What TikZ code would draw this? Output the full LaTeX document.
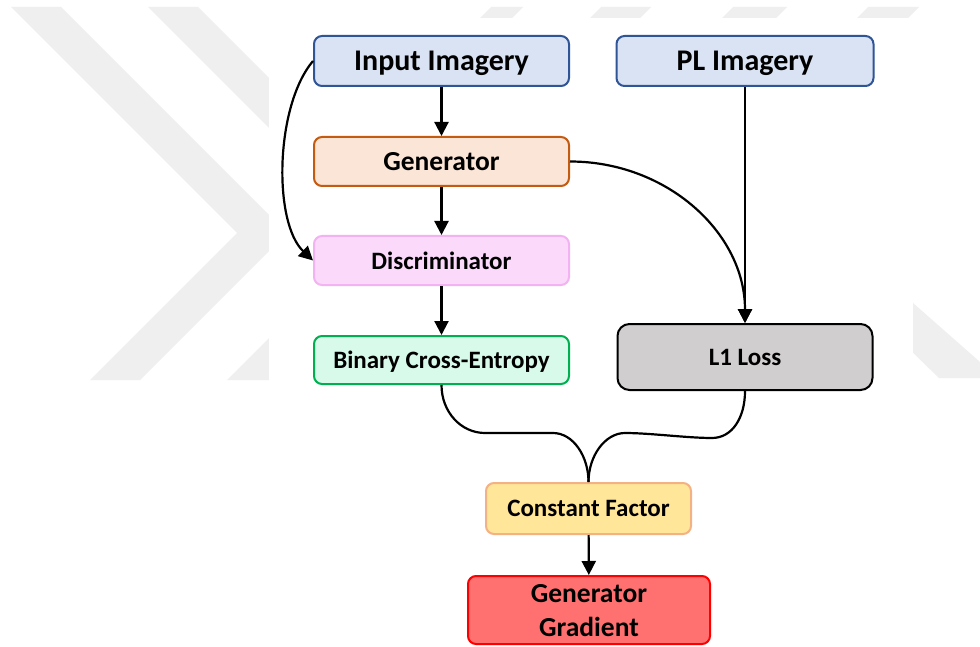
\documentclass[tikz,border=0pt]{standalone}
\usepackage{fontspec}
\setmainfont{Carlito}
\usetikzlibrary{arrows.meta}
\definecolor{wm}{HTML}{EFEFEF}
\definecolor{inpfill}{HTML}{DAE3F3}
\definecolor{inpdraw}{HTML}{2F5597}
\definecolor{genfill}{HTML}{FBE5D6}
\definecolor{gendraw}{HTML}{C55A11}
\definecolor{disfill}{HTML}{FAD9FB}
\definecolor{disdraw}{HTML}{F3B3F3}
\definecolor{bcefill}{HTML}{D8FAEA}
\definecolor{bcedraw}{HTML}{00B050}
\definecolor{lfill}{HTML}{D0CECE}
\definecolor{cffill}{HTML}{FFE699}
\definecolor{cfdraw}{HTML}{F4B183}
\definecolor{ggfill}{HTML}{FF7171}
\definecolor{ggdraw}{HTML}{FF0000}
\begin{document}
\begin{tikzpicture}[x=1pt,y=-1pt,
  box/.style={draw, line width=2pt, rounded corners=8pt, align=center,
    font=\bfseries, inner sep=0pt, text=black, text depth=0pt},
  fs30/.style={font=\bfseries\fontsize{30}{35}\selectfont},
  fs27/.style={font=\bfseries\fontsize{27.5}{34}\selectfont},
  fs25/.style={font=\bfseries\fontsize{25}{30}\selectfont},
  conn/.style={line width=2.2pt, -{Triangle[width=14pt,length=14pt]}},
  link/.style={line width=2.2pt}]
\useasboundingbox (0,0) rectangle (980,647);
\fill[white] (0,0) rectangle (980,647);
% watermark
\fill[wm] (11,7) -- (61,7) -- (287,233) -- (140,380) -- (90,380) -- (237,233) -- cycle;
\fill[wm] (148,7) -- (198,7) -- (424,233) -- (277,380) -- (227,380) -- (374,233) -- cycle;
\fill[wm] (480,18) -- (512,18) -- (523,7) -- (491,7) -- cycle;
\fill[wm] (590,18) -- (640,18) -- (651,7) -- (601,7) -- cycle;
\fill[wm] (722,18) -- (776,18) -- (787,7) -- (733,7) -- cycle;
\fill[wm] (857,18) -- (908,18) -- (919,7) -- (868,7) -- cycle;
\fill[wm] (905,298) -- (913,303) -- (980,362) -- (980,378) -- (939,378) -- (905,345) -- cycle;
\fill[white] (269,18) rectangle (913,647);
% nodes
\node[box, fs30, fill=inpfill, draw=inpdraw, minimum width=255pt, minimum height=50pt] (inp) at (441.5,61) {Input Imagery};
\node[box, fs30, fill=inpfill, draw=inpdraw, minimum width=257pt, minimum height=50pt] (pl) at (745,61) {PL Imagery};
\node[box, fs27, fill=genfill, draw=gendraw, minimum width=255pt, minimum height=49pt] (gen) at (441.5,161.5) {Generator};
\node[box, fs25, fill=disfill, draw=disdraw, minimum width=255pt, minimum height=49pt] (dis) at (441.5,260.5) {Discriminator};
\node[box, fs25, fill=bcefill, draw=bcedraw, minimum width=255pt, minimum height=48pt] (bce) at (441.5,360) {Binary Cross-Entropy};
\node[box, fs25, fill=lfill, draw=black, rounded corners=12pt, minimum width=255pt, minimum height=66pt] (l1) at (745,357) {L1 Loss};
\node[box, fs25, fill=cffill, draw=cfdraw, minimum width=205pt, minimum height=51pt] (cf) at (588.5,508.5) {Constant Factor};
\node[box, fs27, fill=ggfill, draw=ggdraw, minimum width=242pt, minimum height=68pt] (gg) at (589,610) {Generator\\Gradient};
% connectors
\draw[conn] (inp) -- (gen);
\draw[conn] (gen) -- (dis);
\draw[conn] (dis) -- (bce);
\draw[conn] (pl) -- (l1);
\draw[conn] (gen.east) .. controls +(97,0) and +(0,-90) .. (l1.north);
\draw[conn] (inp.west) .. controls +(-38,45) and +(-40,-38) .. (dis.west);
\coordinate (b1) at (485,433);
\coordinate (b2) at (553,433);
\coordinate (r1) at (712,438);
\coordinate (r2) at (625,433);
\draw[link] (bce.south) .. controls +(0,27) and +(-24,0) .. (b1) -- (b2) .. controls +(20,0) and +(0,-26) .. (cf.north);
\draw[link] (l1.south) .. controls +(0,27) and +(20,0) .. (r1) .. controls +(-25,0) and +(25,0) .. (r2) .. controls +(-20,0) and +(0,-26) .. (cf.north);
\draw[conn] (cf) -- (gg);
\end{tikzpicture}
\end{document}
